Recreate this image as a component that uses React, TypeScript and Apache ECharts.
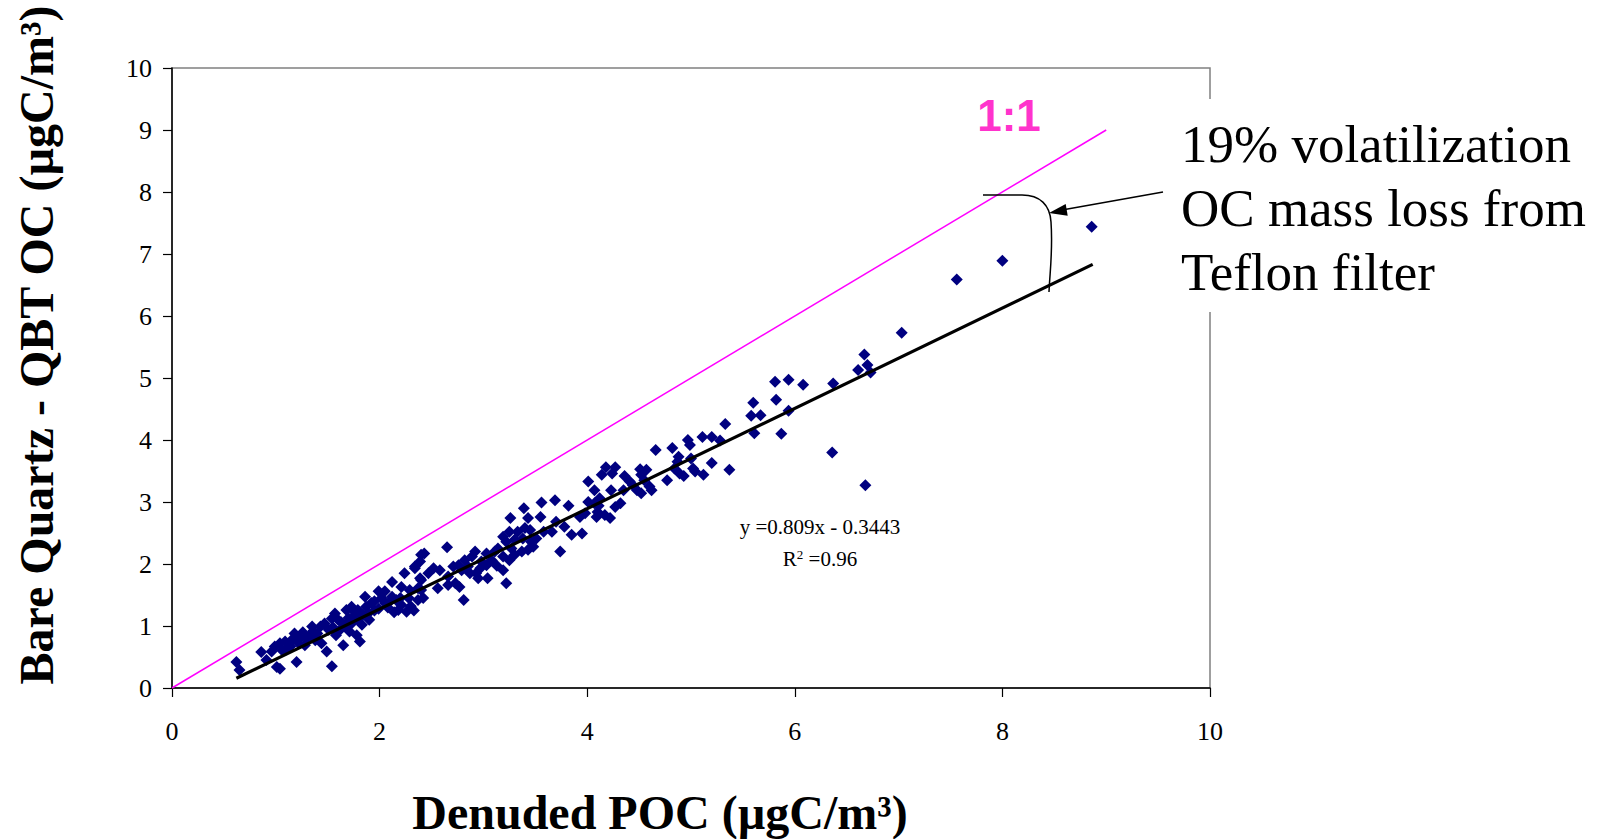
import React, { useEffect, useRef } from "react";
import * as echarts from "echarts";

// Scatter points: [Denuded POC, Bare Quartz - QBT OC]
const pointsLow: number[][] = [
  [0.62, 0.42], [0.65, 0.29], [0.86, 0.58], [0.91, 0.45], [1.01, 0.34], [1.04, 0.31],
  [0.96, 0.59], [0.99, 0.67], [1.04, 0.72], [1.09, 0.75], [1.06, 0.61], [1.14, 0.67],
  [1.2, 0.42], [1.18, 0.88], [1.23, 0.8], [1.28, 0.69], [1.15, 0.77], [1.26, 0.9],
  [1.35, 0.99], [1.33, 0.85], [1.38, 0.77], [1.44, 0.72], [1.49, 0.59], [1.54, 0.35],
  [1.65, 0.69], [1.43, 0.99], [1.47, 1.04], [1.51, 0.94], [1.57, 1.2], [1.6, 1.1],
  [1.54, 1.12], [1.62, 0.94], [1.67, 1.02], [1.68, 1.26], [1.73, 1.31], [1.75, 1.15],
  [1.79, 1.1], [1.73, 1.04], [1.71, 0.91], [1.78, 0.85], [1.81, 0.75], [1.83, 1.02],
  [1.86, 1.47], [1.87, 1.31], [1.92, 1.37], [1.89, 1.2], [1.79, 1.26], [2.02, 1.45],
  [2.05, 1.37], [1.99, 1.28], [2.12, 1.47], [2.16, 1.42], [2.21, 1.34], [2.26, 1.23],
  [2.18, 1.26], [2.12, 1.71], [2.24, 1.85], [2.34, 1.96], [2.21, 1.63], [2.29, 1.58],
  [2.39, 1.77], [2.4, 1.58], [2.37, 1.42], [2.4, 2.15], [2.05, 1.56], [1.99, 1.56],
  [1.1, 0.62], [1.12, 0.7], [1.22, 0.72], [1.3, 0.8], [1.4, 0.88], [1.36, 0.92],
  [1.55, 0.98], [1.58, 0.85], [1.63, 1.06], [1.7, 1.13], [1.76, 1.22], [1.84, 1.18],
  [1.95, 1.25], [2.08, 1.3], [2.1, 1.4], [2.14, 1.22], [2.2, 1.45], [2.3, 1.32],
  [2.33, 1.25], [2.28, 1.45], [1.9, 1.1], [1.95, 1.4],
];

const pointsMid: number[][] = [
  [4.01, 3.33], [3.69, 3.03], [3.56, 2.99], [3.82, 2.94], [4.01, 3.0], [4.11, 2.94],
  [3.39, 2.9], [3.55, 2.76], [3.43, 2.74], [3.26, 2.74], [3.7, 2.68], [3.93, 2.76],
  [3.98, 2.82], [4.09, 2.76], [3.78, 2.6], [3.66, 2.52], [3.58, 2.52], [3.45, 2.55],
  [3.4, 2.58], [3.33, 2.52], [3.25, 2.52], [3.85, 2.47], [3.95, 2.49], [3.19, 2.44],
  [3.22, 2.36], [3.3, 2.39], [3.38, 2.41], [3.46, 2.36], [3.51, 2.41], [3.74, 2.2],
  [3.14, 2.25], [3.11, 2.2], [3.27, 2.25], [3.3, 2.15], [3.37, 2.2], [3.43, 2.23],
  [3.48, 2.28], [3.25, 2.06], [3.19, 2.12], [3.08, 2.06], [3.03, 1.98], [3.13, 1.97],
  [3.19, 1.9], [3.22, 1.69], [3.04, 1.77], [2.97, 1.93], [2.92, 2.2], [2.89, 2.12],
  [2.82, 2.06], [2.85, 1.96], [2.93, 1.85], [2.87, 1.85], [2.79, 1.9], [2.76, 1.98],
  [2.71, 1.96], [2.65, 2.27], [2.43, 2.17], [2.81, 1.42], [2.73, 1.69], [2.66, 1.8],
  [2.58, 1.9], [2.52, 1.93], [2.47, 1.85], [2.56, 1.61], [2.4, 1.74], [2.37, 1.61],
  [2.42, 1.45], [2.34, 1.93], [2.39, 2.04], [3.03, 2.17], [2.98, 2.04], [2.95, 1.77],
  [2.66, 1.66], [2.77, 1.63],
];

const pointsHigh: number[][] = [
  [5.6, 4.6], [5.82, 4.65], [5.58, 4.39], [5.67, 4.4], [5.33, 4.26], [5.61, 4.11],
  [5.87, 4.1], [5.11, 4.05], [5.2, 4.05], [4.97, 4.0], [4.99, 3.92], [5.28, 3.99],
  [4.66, 3.84], [4.82, 3.87], [4.88, 3.73], [5.0, 3.7], [4.87, 3.65], [4.84, 3.54],
  [5.2, 3.63], [5.37, 3.52], [4.89, 3.46], [4.93, 3.42], [5.02, 3.54], [5.04, 3.49],
  [5.12, 3.44], [4.77, 3.35], [4.51, 3.53], [4.57, 3.52], [4.52, 3.44], [4.55, 3.35],
  [4.6, 3.25], [4.62, 3.19], [4.41, 3.33], [4.44, 3.27], [4.48, 3.19], [4.52, 3.14],
  [4.36, 3.42], [4.27, 3.56], [4.24, 3.46], [4.14, 3.44], [4.07, 3.19], [4.23, 3.19],
  [4.35, 3.19], [4.32, 2.98], [4.27, 2.92], [4.12, 3.06], [4.1, 2.84], [4.17, 2.79],
  [4.22, 2.74], [4.07, 2.98], [4.18, 3.56],
];

const pointsTop: number[][] = [
  [7.03, 5.73], [6.67, 5.38], [6.7, 5.21], [6.61, 5.13], [6.73, 5.09], [6.37, 4.91],
  [5.94, 4.97], [6.08, 4.89], [5.81, 4.94], [5.94, 4.47], [6.36, 3.8], [6.68, 3.27],
  [7.56, 6.59], [8.0, 6.89], [8.86, 7.44],
];

// Lines
const oneToOne: number[][] = [[0, 0], [9, 9]];
const fitLine: number[][] = [[0.62, 0.158], [8.87, 6.832]];

const xTicks = { min: 0, max: 10, interval: 2 };
const yTicks = { min: 0, max: 10, interval: 1 };

const equationText = "y =0.809x - 0.3443";
const r2Text = "=0.96";
const annotationLines = ["19% volatilization", "OC mass loss from", "Teflon filter"];
const xTitle = "Denuded POC (µgC/m³)";
const yTitle = "Bare Quartz - QBT OC (µgC/m³)";

const SERIF = "Liberation Serif";

export default function App() {
  const ref = useRef<HTMLDivElement>(null);

  useEffect(() => {
    if (!ref.current) return;
    const chart = echarts.init(ref.current, null, { renderer: "svg" });
    const allPoints = [...pointsLow, ...pointsMid, ...pointsHigh, ...pointsTop];

    const axisCommon = {
      axisLine: { show: true, onZero: false, lineStyle: { color: "#000", width: 1.5 } },
      axisTick: { show: true, inside: false, length: 9, lineStyle: { color: "#000", width: 1.2 } },
      splitLine: { show: false },
    };

    chart.setOption({
      animation: false,
      backgroundColor: "#fff",
      grid: {
        left: 172,
        top: 68,
        width: 1038,
        height: 620,
        show: true,
        borderColor: "#808080",
        borderWidth: 1.5,
        backgroundColor: "#fff",
      },
      xAxis: {
        type: "value",
        ...xTicks,
        ...axisCommon,
        axisLabel: { color: "#000", fontFamily: SERIF, fontSize: 26, margin: 30 },
      },
      yAxis: {
        type: "value",
        ...yTicks,
        ...axisCommon,
        axisLabel: { color: "#000", fontFamily: SERIF, fontSize: 26, margin: 20 },
      },
      series: [
        {
          type: "scatter",
          data: allPoints,
          symbol: "diamond",
          symbolSize: 12,
          itemStyle: { color: "#000080", opacity: 1 },
          z: 2,
        },
        {
          type: "line",
          data: oneToOne,
          symbol: "none",
          lineStyle: { color: "#FF00FF", width: 1.5 },
          z: 3,
        },
        {
          type: "line",
          data: fitLine,
          symbol: "none",
          lineStyle: { color: "#000", width: 3.2 },
          z: 4,
        },
      ],
      graphic: [
        {
          type: "rect",
          shape: { x: 1200, y: 99, width: 20, height: 213 },
          style: { fill: "#fff" },
          z: 100,
        },
        {
          type: "text",
          x: 36,
          y: 345,
          rotation: Math.PI / 2,
          style: {
            text: yTitle,
            font: `bold 48px ${SERIF}`,
            fill: "#000",
            align: "center",
            verticalAlign: "middle",
          },
          z: 100,
        },
        {
          type: "text",
          x: 660,
          y: 812,
          style: {
            text: xTitle,
            font: `bold 48px ${SERIF}`,
            fill: "#000",
            align: "center",
            verticalAlign: "middle",
          },
          z: 100,
        },
        {
          type: "text",
          x: 1009,
          y: 115,
          style: {
            text: "1:1",
            font: "bold 44px Liberation Sans",
            fill: "#FF33CC",
            align: "center",
            verticalAlign: "middle",
          },
          z: 100,
        },
        {
          type: "text",
          x: 820,
          y: 527,
          style: {
            text: equationText,
            font: `21px ${SERIF}`,
            fill: "#000",
            align: "center",
            verticalAlign: "middle",
          },
          z: 100,
        },
        {
          type: "text",
          x: 820,
          y: 559,
          style: {
            text: `{r|R}{sup|2}{r| ${r2Text}}`,
            fill: "#000",
            align: "center",
            verticalAlign: "middle",
            rich: {
              r: { font: `21px ${SERIF}`, fill: "#000" },
              sup: { font: `13px ${SERIF}`, fill: "#000", verticalAlign: "top", padding: [0, 0, 10, 0] },
            },
          },
          z: 100,
        },
        ...annotationLines.map((t, i) => ({
          type: "text",
          x: 1181,
          y: 144 + i * 64,
          style: {
            text: t,
            font: `53px ${SERIF}`,
            fill: "#000",
            align: "left",
            verticalAlign: "middle",
          },
          z: 101,
        })),
        // arrow shaft
        {
          type: "line",
          shape: { x1: 1163, y1: 192, x2: 1062, y2: 210 },
          style: { stroke: "#000", lineWidth: 1.5 },
          z: 100,
        },
        // arrow head
        {
          type: "polygon",
          shape: { points: [[1049, 213], [1067.7, 215.8], [1065.7, 204.0]] },
          style: { fill: "#000" },
          z: 100,
        },
        // bracket
        {
          type: "line",
          shape: { x1: 983, y1: 195, x2: 1022, y2: 195 },
          style: { stroke: "#000", lineWidth: 1.5 },
          z: 100,
        },
        {
          type: "bezierCurve",
          shape: { x1: 1022, y1: 195, cpx1: 1040, cpy1: 195, cpx2: 1050, cpy2: 205, x2: 1051, y2: 222 },
          style: { stroke: "#000", lineWidth: 1.5, fill: "none" },
          z: 100,
        },
        {
          type: "bezierCurve",
          shape: { x1: 1051, y1: 222, cpx1: 1053, cpy1: 250, cpx2: 1050, cpy2: 270, x2: 1049, y2: 292 },
          style: { stroke: "#000", lineWidth: 1.5, fill: "none" },
          z: 100,
        },
      ],
    });

    return () => chart.dispose();
  }, []);

  return (
    <div
      ref={ref}
      style={{ position: "absolute", left: 0, top: 0, width: 1611, height: 839, background: "#fff" }}
    />
  );
}
